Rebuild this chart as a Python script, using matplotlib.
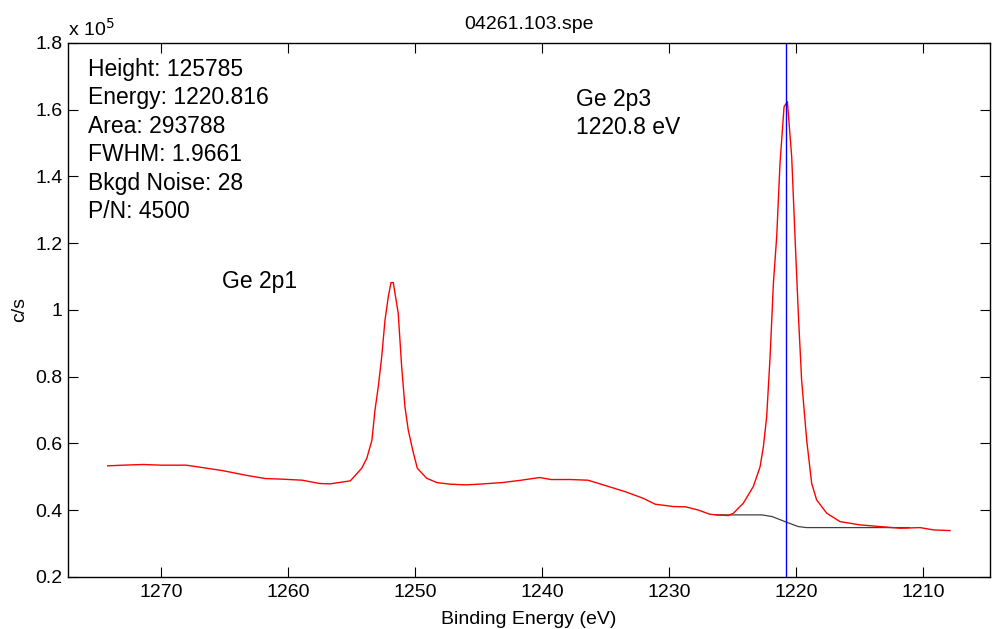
import matplotlib
matplotlib.use("Agg")
import matplotlib.pyplot as plt
from matplotlib.ticker import FuncFormatter, MultipleLocator

plt.rcParams['font.family'] = ['Liberation Sans', 'DejaVu Sans']

# Spectrum (binding energy eV, counts/s)
energy = [1274.2, 1273.0, 1271.4, 1270.0, 1268.0, 1266.6, 1265.2, 1263.2, 1261.8,
          1260.4, 1258.9, 1257.5, 1256.7, 1255.1, 1254.2, 1253.8, 1253.4, 1253.16,
          1252.9, 1252.63, 1252.37, 1252.11, 1251.9, 1251.72, 1251.33, 1251.06,
          1250.8, 1250.54, 1250.19, 1249.83, 1249.1, 1248.3, 1247.25, 1246.0,
          1245.0, 1243.1, 1241.65, 1240.2, 1239.3, 1237.8, 1236.4, 1234.94, 1233.5,
          1232.06, 1231.1, 1229.66, 1228.7, 1227.75, 1226.8, 1226.26, 1225.35,
          1224.95, 1224.17, 1223.38, 1222.85, 1222.59, 1222.33, 1222.06, 1221.8,
          1221.54, 1221.28, 1220.96, 1220.70, 1220.36, 1220.1, 1219.84, 1219.58,
          1219.18, 1218.79, 1218.4, 1217.6, 1216.56, 1214.98, 1213.4, 1211.8,
          1210.26, 1209.2, 1207.9]
counts = [53300, 53500, 53700, 53500, 53500, 52700, 51900, 50400, 49500,
          49300, 49000, 48000, 47900, 48800, 52600, 55600, 61000, 70000,
          77000, 86000, 97000, 104000, 108200, 108200, 99000, 83000,
          71000, 64000, 58000, 52600, 49600, 48300, 47800, 47600,
          47800, 48300, 49000, 49800, 49200, 49200, 49000, 47300, 45600,
          43600, 41800, 41100, 41000, 40100, 38800, 38600, 38400,
          39100, 42100, 47100, 53000, 59000, 68000, 86000, 108000,
          122000, 144000, 160900, 162400, 145900, 122000, 99000, 79000,
          61000, 48100, 43100, 39100, 36600, 35600, 35100, 34600,
          34800, 34100, 33900]

# Background under Ge 2p3
bg_energy = [1226.3, 1222.7, 1221.9, 1220.76, 1219.84, 1219.18, 1211.1]
bg_counts = [38600, 38600, 38100, 36400, 35100, 34800, 34800]

peak_energy = 1220.816
title = "04261.103.spe"
info_lines = ["Height: 125785", "Energy: 1220.816", "Area: 293788",
              "FWHM: 1.9661", "Bkgd Noise: 28", "P/N: 4500"]

fig = plt.figure(figsize=(9.96, 6.29), dpi=100)
ax = fig.add_axes([0.0683, 0.0827, 0.9257, 0.849])

ax.plot(bg_energy, bg_counts, color='#404040', lw=0.9)
ax.plot(energy, counts, color='#ff0000', lw=1.0)
ax.axvline(peak_energy, color='#0000ff', lw=1.0)

ax.set_xlim(1277.32, 1204.75)
ax.set_ylim(20000, 180000)
ax.xaxis.set_major_locator(MultipleLocator(10))
ax.yaxis.set_major_locator(MultipleLocator(20000))
ax.yaxis.set_major_formatter(FuncFormatter(lambda v, p: f"{v/1e5:g}"))

ax.tick_params(direction='in', length=7, width=0.8, top=True, right=True,
               labelsize=14, colors='black')
ax.tick_params(axis='y', pad=4)
ax.tick_params(axis='x', pad=5)
for s in ax.spines.values():
    s.set_linewidth(1.0)

ax.text(0.0, 1.006, r"x 10$^{5}$", transform=ax.transAxes, fontsize=14,
        ha='left', va='bottom')
ax.set_title(title, fontsize=14, pad=10)
ax.set_xlabel("Binding Energy (eV)", fontsize=14, labelpad=7)
ax.set_ylabel("c/s", fontsize=14, labelpad=5)

for i, line in enumerate(info_lines):
    ax.text(0.022, 0.951 - i * 0.0535, line, transform=ax.transAxes,
            fontsize=16.5, ha='left', va='center')

ax.text(1265.2, 108500, "Ge 2p1", fontsize=16.5, ha='left', va='center')
ax.text(1237.34, 163100, "Ge 2p3", fontsize=16.5, ha='left', va='center')
ax.text(1237.34, 154700, "1220.8 eV", fontsize=16.5, ha='left', va='center')

fig.savefig("out.png", dpi=100)
